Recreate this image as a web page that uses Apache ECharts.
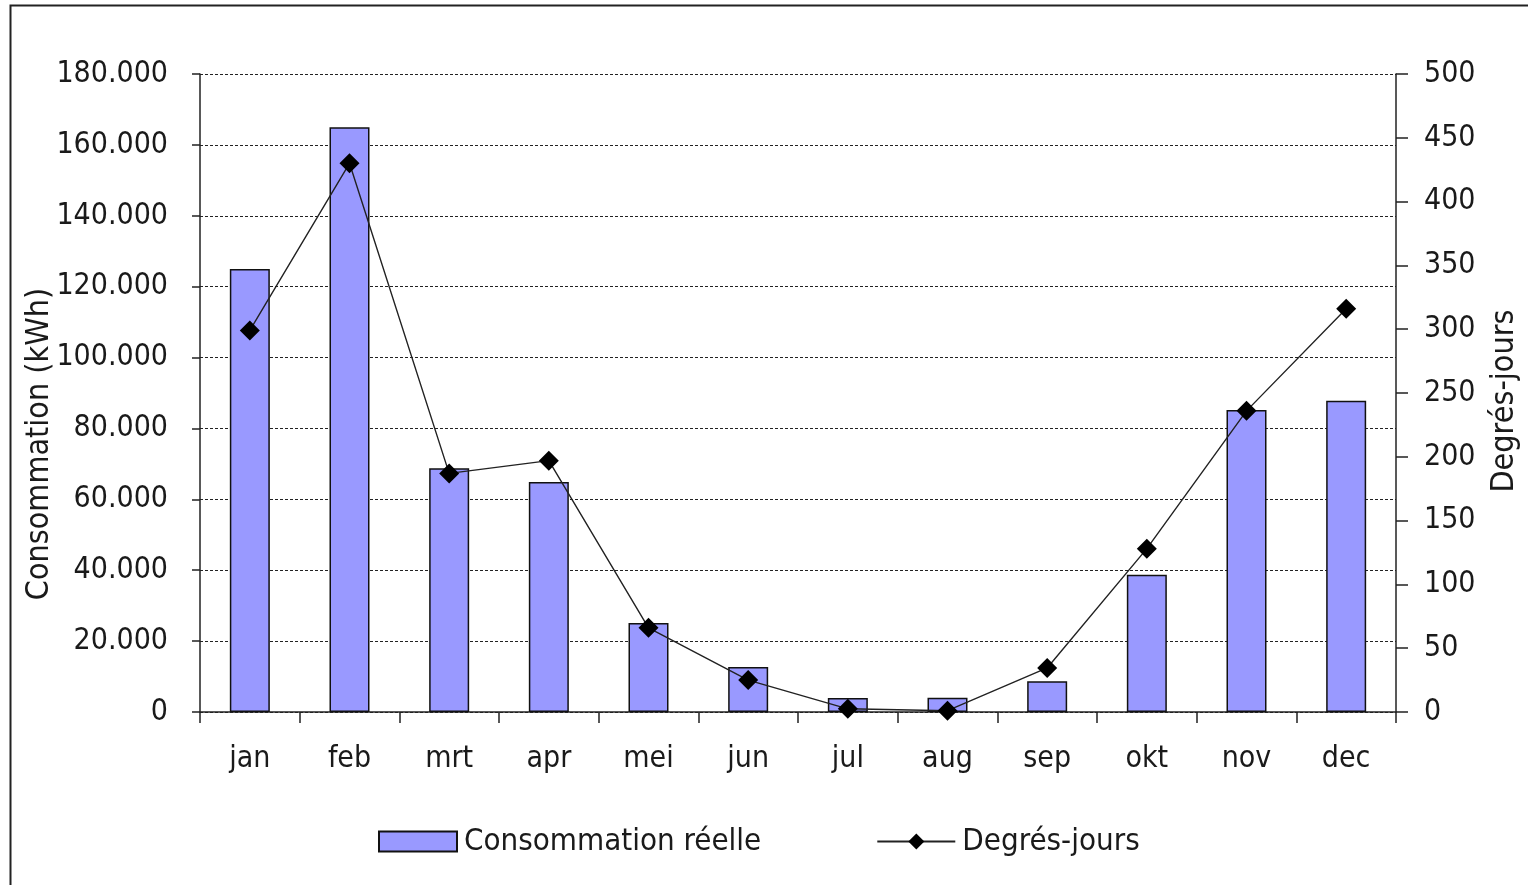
<!DOCTYPE html>
<html>
<head>
<meta charset="utf-8">
<script src="https://cdn.jsdelivr.net/npm/echarts@6/dist/echarts.min.js"></script>
<style>
html,body{margin:0;padding:0;background:#fff;}
#chart{width:1528px;height:885px;}
</style>
</head>
<body>
<div id="chart"></div>
<script>
const months = ['jan','feb','mrt','apr','mei','jun','jul','aug','sep','okt','nov','dec'];
const consommation = [125000,165000,68800,64900,25100,12700,3950,4000,8700,38700,85200,87800];
const degresJours = [299,430,187,197,66,25,2.5,1,34.5,128,236,316];
const leftTicks = {min:0, max:180000, interval:20000};
const rightTicks = {min:0, max:500, interval:50};

const FONT = '"DejaVu Sans Condensed", "DejaVu Sans", sans-serif';
const TXT = '#1a1a1a';
function fmtThousands(v){
  return String(Math.round(v)).replace(/\B(?=(\d{3})+(?!\d))/g, '.');
}

const chart = echarts.init(document.getElementById('chart'), null, {renderer:'canvas'});
chart.setOption({
  backgroundColor:'#fff',
  animation:false,
  textStyle:{fontFamily:FONT, color:TXT},
  grid:{left:200, right:132, top:74, bottom:173, containLabel:false},
  graphic:[
    {type:'rect', shape:{x:10.5, y:5.5, width:1600, height:1000}, style:{fill:'none', stroke:'#222', lineWidth:2}, silent:true, z:-1},
    {type:'text', x:40, y:444, rotation:Math.PI/2, style:{text:'Consommation (kWh)', font:'32px '+FONT, fill:TXT, align:'center', verticalAlign:'middle'}},
    {type:'text', x:1505, y:401, rotation:Math.PI/2, style:{text:'Degrés-jours', font:'32px '+FONT, fill:TXT, align:'center', verticalAlign:'middle'}}
  ],
  legend:{
    left:378, top:826, padding:0,
    itemWidth:78, itemHeight:20, itemGap:115,
    textStyle:{fontFamily:FONT, fontSize:31, color:TXT, padding:[0,0,0,2]},
    data:[
      {name:'Consommation réelle', icon:'rect'},
      {name:'Degrés-jours'}
    ]
  },
  xAxis:{
    type:'category', data:months, boundaryGap:true,
    axisLine:{lineStyle:{color:'#222', width:1.5}},
    axisTick:{show:true, length:11, lineStyle:{color:'#222', width:1.5}},
    axisLabel:{fontFamily:FONT, fontSize:30, color:TXT, margin:32}
  },
  yAxis:[
    {
      type:'value', min:leftTicks.min, max:leftTicks.max, interval:leftTicks.interval,
      axisLine:{show:true, lineStyle:{color:'#222', width:1.5}},
      axisTick:{show:true, length:8, lineStyle:{color:'#222', width:1.5}},
      axisLabel:{fontFamily:FONT, fontSize:30, color:TXT, margin:32, padding:[4,0,0,0], formatter:fmtThousands},
      splitLine:{show:true, lineStyle:{color:'#222', width:1, type:[3,2]}}
    },
    {
      type:'value', position:'right', min:rightTicks.min, max:rightTicks.max, interval:rightTicks.interval,
      axisLine:{show:true, lineStyle:{color:'#222', width:1.5}},
      axisTick:{show:true, length:12, lineStyle:{color:'#222', width:1.5}},
      axisLabel:{fontFamily:FONT, fontSize:30, color:TXT, margin:28, padding:[4,0,0,0]},
      splitLine:{show:false}
    }
  ],
  series:[
    {
      name:'Consommation réelle', type:'bar', yAxisIndex:0, data:consommation,
      barWidth:40,
      itemStyle:{color:'#9999FF', borderColor:'#111', borderWidth:1.5}
    },
    {
      name:'Degrés-jours', type:'line', yAxisIndex:1, data:degresJours,
      symbol:'diamond', symbolSize:20, z:5,
      lineStyle:{color:'#222', width:1.4},
      itemStyle:{color:'#000'}
    }
  ]
});
</script>
</body>
</html>
